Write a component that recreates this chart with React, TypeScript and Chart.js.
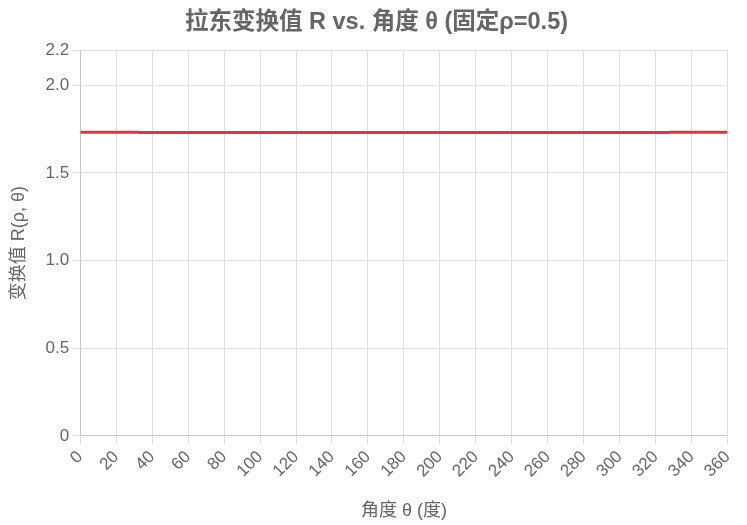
import React, { useEffect, useRef } from "react";
import { Chart, registerables } from "chart.js";

Chart.register(...registerables);

const titleText = "拉东变换值 R vs. 角度 θ (固定ρ=0.5)";
const xTitle = "角度 θ (度)";
const yTitle = "变换值 R(ρ, θ)";

// theta samples (degrees) and R values
const thetaValues: number[] = [];
for (let t = 0; t <= 360; t += 1) thetaValues.push(t);
const edgeValue = 1.7321;
const midValue = 1.7312;
const edgeLimitLow = 32;
const edgeLimitHigh = 328;
const rValues: number[] = thetaValues.map((t) =>
  t <= edgeLimitLow || t >= edgeLimitHigh ? edgeValue : midValue
);

const xMin = 0;
const xMax = 360;
const xStep = 20;
const yMin = 0;
const yMax = 2.2;
const yStep = 0.5;

export default function App() {
  const ref = useRef<HTMLCanvasElement | null>(null);
  useEffect(() => {
    if (!ref.current) return;
    const font = "'Liberation Sans', Arial, 'Noto Sans CJK SC', sans-serif";
    const chart = new Chart(ref.current, {
      type: "line",
      data: {
        datasets: [
          {
            label: "R",
            data: thetaValues.map((t, i) => ({ x: t, y: rValues[i] })),
            borderColor: "#dc3545",
            backgroundColor: "#dc3545",
            borderWidth: 3,
            pointRadius: 0,
            tension: 0,
          },
        ],
      },
      options: {
        animation: false,
        responsive: true,
        maintainAspectRatio: false,
        layout: { padding: { left: 0, right: 0, top: 0, bottom: 0 } },
        plugins: {
          legend: { display: false },
          tooltip: { enabled: false },
          title: {
            display: true,
            text: titleText,
            color: "#666",
            font: { family: font, size: 23.5, weight: "bold" },
            padding: { top: 0, bottom: 14 },
          },
        },
        scales: {
          x: {
            type: "linear",
            min: xMin,
            max: xMax,
            ticks: {
              stepSize: xStep,
              color: "#666",
              font: { family: font, size: 17 },
              maxRotation: 45,
              minRotation: 45,
            },
            grid: { color: "#e0e0e0" },
            title: {
              display: true,
              text: xTitle,
              color: "#666",
              font: { family: font, size: 18 },
              padding: { top: 16, bottom: 0 },
            },
          },
          y: {
            type: "linear",
            min: yMin,
            max: yMax,
            ticks: {
              stepSize: yStep,
              color: "#666",
              font: { family: font, size: 17 },
              callback: (v: any) => (Number(v) === 0 ? "0" : Number(v).toFixed(1)),
            },
            grid: { color: "#e0e0e0" },
            title: {
              display: true,
              text: yTitle,
              color: "#666",
              font: { family: font, size: 18 },
              padding: { top: 0, bottom: 13 },
            },
          },
        },
      },
    });
    return () => chart.destroy();
  }, []);
  return (
    <div style={{ width: "737px", height: "514px" }}>
      <canvas ref={ref} />
    </div>
  );
}
